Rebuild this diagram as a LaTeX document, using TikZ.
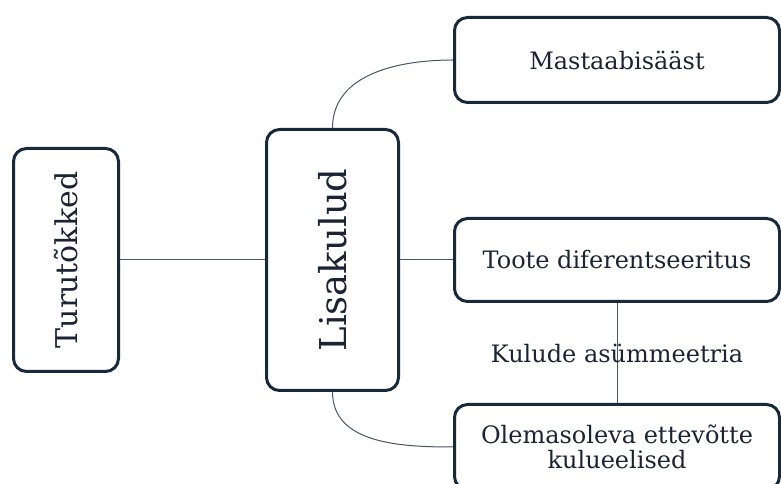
\documentclass[tikz,border=0pt]{standalone}
\usepackage{fontspec}
\setmainfont{DejaVu Serif}
\usepackage{tikz}
\usetikzlibrary{positioning}
\definecolor{boxline}{HTML}{17293A}
\definecolor{wireline}{HTML}{4A5560}
\definecolor{boxtext}{HTML}{1C2433}
\tikzset{
  block/.style={shape=rectangle,draw=boxline,line width=3pt,rounded corners=13pt,text=boxtext,align=center,inner sep=0,font=\fontsize{24}{25}\selectfont},
  wire/.style={draw=wireline,line width=1pt}
}

\begin{document}
\begin{tikzpicture}[x=1pt,y=1pt]
      \clip (0,0) rectangle (781,484);
      \node[block,minimum width=132pt,minimum height=261pt,font=\fontsize{37}{40}\selectfont] (lisa) at (332.5,224) {\rotatebox{90}{Lisakulud}};
      \node[block,minimum width=105pt,minimum height=223pt,left=145pt of lisa,font=\fontsize{30}{32}\selectfont] (turu) {\rotatebox{90}{Turutõkked}};
      \node[block,minimum width=325pt,minimum height=83pt,right=53pt of lisa] (toote) {Toote diferentseeritus};
      \node[block,minimum width=325pt,minimum height=85pt,above=113pt of toote] (mast) {Mastaabisääst};
      \node[block,minimum width=325pt,minimum height=85pt,below=100pt of toote] (olem) {Olemasoleva ettevõtte\\kulueelised};
      \begin{scope}
        \draw[wire] (turu) -- (lisa);
        \draw[wire] (lisa) -- (toote);
        \draw[wire] (lisa.north) to[out=90,in=180] (mast.west);
        \draw[wire] (lisa.south) to[out=-90,in=180] (olem.west);
        \draw[wire] (toote) -- node[text=boxtext,font=\fontsize{24}{25}\selectfont] {Kulude asümmeetria} (olem);
      \end{scope}
    \end{tikzpicture}
\end{document}
